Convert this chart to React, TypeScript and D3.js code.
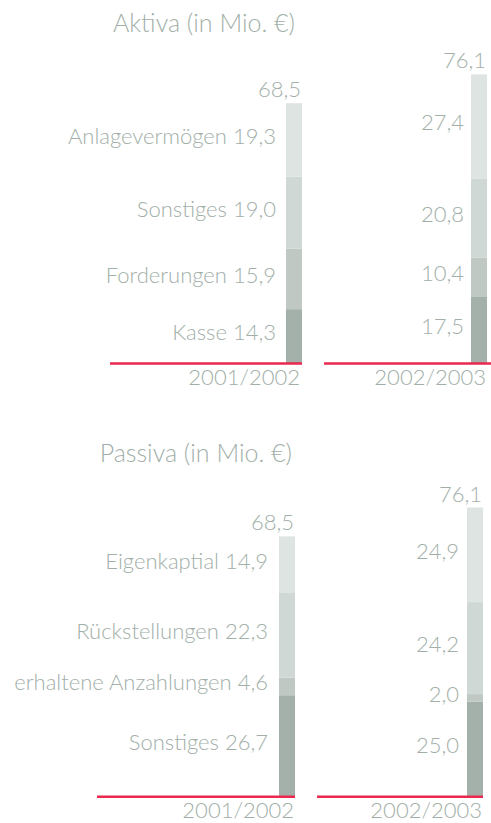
import React from "react";
import * as d3 from "d3";

// values in Mio. €, stacked bottom -> top
const aktivaCategories = ["Kasse", "Forderungen", "Sonstiges", "Anlagevermögen"];
const aktiva2002 = [14.3, 15.9, 19.0, 19.3];
const aktiva2003 = [17.5, 10.4, 20.8, 27.4];

const passivaCategories = ["Sonstiges", "erhaltene Anzahlungen", "Rückstellungen", "Eigenkaptial"];
const passiva2002 = [26.7, 4.6, 22.3, 14.9];
const passiva2003 = [25.0, 2.0, 24.2, 24.9];

const years = ["2001/2002", "2002/2003"];

const segColors = ["#a4b1ab", "#bfc8c3", "#cfd8d4", "#dee4e1"];
const textColor = "#a2afa9";
const lineColor = "#e9294e";
const font = "Lato, 'Open Sans', sans-serif";

const fmt = (v: number) => d3.format(".1f")(v).replace(".", ",");

const maxTotal = d3.max([aktiva2002, aktiva2003, passiva2002, passiva2003], (s) => d3.sum(s)) as number;
const h = d3.scaleLinear().domain([0, maxTotal]).range([0, 289.2]);

const panels = [
  {
    title: "Aktiva (in Mio. €)",
    titleY: 32,
    titleRight: 295,
    baseY: 363.5,
    categories: aktivaCategories,
    series: [aktiva2002, aktiva2003],
    bars: [
      { x: 286, labelRight: 276, line: [110, 302], yearRight: 300 },
      { x: 471, labelRight: 464, line: [324, 491], yearRight: 486 },
    ],
  },
  {
    title: "Passiva (in Mio. €)",
    titleY: 462,
    titleRight: 292,
    baseY: 796.7,
    categories: passivaCategories,
    series: [passiva2002, passiva2003],
    bars: [
      { x: 279, labelRight: 268, line: [97, 295], yearRight: 294 },
      { x: 467, labelRight: 459, line: [317, 483], yearRight: 482 },
    ],
  },
];

const barW = 16;

export default function App() {
  return (
    <svg
      width={491}
      height={823}
      style={{ position: "absolute", left: 0, top: 0, background: "#fff" }}
      fontFamily={font}
      fontWeight={300}
      fontSize={22}
      fill={textColor}
    >
      {panels.map((p, pi) => (
        <g key={pi}>
          <text x={p.titleRight} y={p.titleY} textAnchor="end" fontSize={25}>
            {p.title}
          </text>
          {p.series.map((vals, bi) => {
            const b = p.bars[bi];
            const stack = d3.cumsum(vals);
            const total = d3.sum(vals);
            return (
              <g key={bi}>
                {vals.map((v, i) => {
                  const y0 = p.baseY - h(stack[i]);
                  const y1 = p.baseY - h(stack[i] - v);
                  const mid = (y0 + y1) / 2;
                  return (
                    <g key={i}>
                      <rect x={b.x} y={y0} width={barW} height={y1 - y0} fill={segColors[i]} />
                      <text x={b.labelRight} y={mid + 4} textAnchor="end">
                        {bi === 0 ? `${p.categories[i]} ${fmt(v)}` : fmt(v)}
                      </text>
                    </g>
                  );
                })}
                <text x={b.x + barW - 1} y={p.baseY - h(total) - 6} textAnchor="end">
                  {fmt(total)}
                </text>
                <line
                  x1={b.line[0]}
                  x2={b.line[1]}
                  y1={p.baseY}
                  y2={p.baseY}
                  stroke={lineColor}
                  strokeWidth={2.5}
                />
                <text x={b.yearRight} y={p.baseY + 21.5} textAnchor="end">
                  {years[bi]}
                </text>
              </g>
            );
          })}
        </g>
      ))}
    </svg>
  );
}
